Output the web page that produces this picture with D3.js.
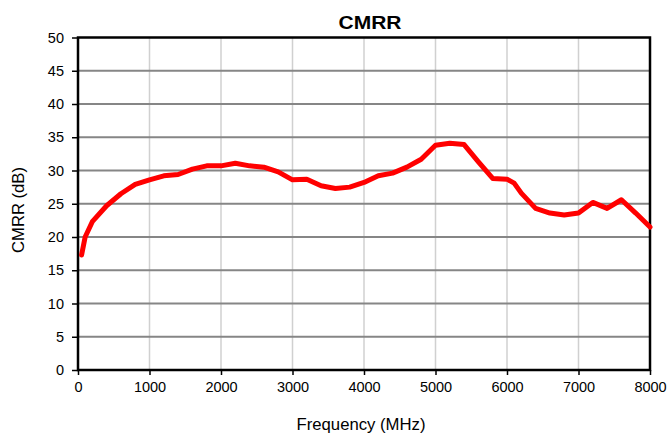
<!DOCTYPE html>
<html>
<head>
<meta charset="utf-8">
<script src="https://cdn.jsdelivr.net/npm/d3@7"></script>
<style>
  body { margin: 0; background: #fff; }
  text { font-family: Arial, "Liberation Sans", sans-serif; }
</style>
</head>
<body>
<div id="chart"></div>
<script>
// frequency (MHz) and CMRR (dB)
const freqs = [50, 100, 200, 400, 600, 800, 1000, 1200, 1400, 1600, 1800, 2000, 2200, 2400,
  2600, 2800, 3000, 3200, 3400, 3600, 3800, 4000, 4200, 4400, 4600, 4800, 5000, 5200, 5400,
  5600, 5800, 6000, 6100, 6200, 6400, 6600, 6800, 7000, 7200, 7400, 7600, 7800, 8000]
const cmrr = [17.3, 20.0, 22.3, 24.7, 26.5, 27.9, 28.6, 29.2, 29.4, 30.2, 30.7, 30.7, 31.1, 30.7,
  30.5, 29.8, 28.6, 28.7, 27.7, 27.3, 27.5, 28.2, 29.2, 29.6, 30.5, 31.7, 33.8, 34.1, 33.9,
  31.3, 28.8, 28.7, 28.1, 26.6, 24.3, 23.6, 23.3, 23.6, 25.2, 24.3, 25.6, 23.6, 21.5]
const xTicks = [0, 1000, 2000, 3000, 4000, 5000, 6000, 7000, 8000]
const yTicks = [0, 5, 10, 15, 20, 25, 30, 35, 40, 45, 50]

const width = 670, height = 434
const margin = { top: 37.5, right: 20, bottom: 64, left: 78 }
const plotW = 650 - margin.left, plotH = 370 - margin.top

const svg = d3.select('#chart').append('svg')
  .attr('width', width)
  .attr('height', height)

const g = svg.append('g')
  .attr('transform', `translate(${margin.left}, ${margin.top})`)

const x = d3.scaleLinear().domain([0, 8000]).range([0, plotW])
const y = d3.scaleLinear().domain([0, 50]).range([plotH, 0])

// vertical grid (light)
g.append('g')
  .selectAll('line')
  .data(xTicks.slice(1, -1))
  .join('line')
  .attr('x1', d => x(d)).attr('x2', d => x(d))
  .attr('y1', 0).attr('y2', plotH)
  .attr('stroke', '#d0d0d0')
  .attr('stroke-width', 1.5)

// horizontal grid (dark)
g.append('g')
  .selectAll('line')
  .data(yTicks.slice(1, -1))
  .join('line')
  .attr('x1', 0).attr('x2', plotW)
  .attr('y1', d => y(d)).attr('y2', d => y(d))
  .attr('stroke', '#868686')
  .attr('stroke-width', 2)

// axes
const xAxis = g.append('g')
  .attr('transform', `translate(0, ${plotH})`)
  .call(d3.axisBottom(x).tickValues(xTicks).tickSize(5).tickPadding(7).tickFormat(d3.format('d')))
const yAxis = g.append('g')
  .call(d3.axisLeft(y).tickValues(yTicks).tickSize(6).tickPadding(8))

for (const ax of [xAxis, yAxis]) {
  ax.select('.domain').remove()
  ax.selectAll('line').attr('stroke', '#000').attr('stroke-width', 1.5)
  ax.selectAll('text')
    .attr('fill', '#000')
    .attr('font-size', 14.5)
    .style('font-family', 'Arial, "Liberation Sans", sans-serif')
}

// frame
g.append('rect')
  .attr('width', plotW)
  .attr('height', plotH)
  .attr('fill', 'none')
  .attr('stroke', '#000')
  .attr('stroke-width', 2.5)

// data line
const line = d3.line()
  .x((d, i) => x(freqs[i]))
  .y(d => y(d))

g.append('path')
  .datum(cmrr)
  .attr('d', line)
  .attr('fill', 'none')
  .attr('stroke', '#ff0000')
  .attr('stroke-width', 5)
  .attr('stroke-linejoin', 'round')
  .attr('stroke-linecap', 'round')

// title & labels (the reference text runs a bit wide, so stretch to its length)
svg.append('text')
  .attr('x', 370)
  .attr('y', 29)
  .attr('text-anchor', 'middle')
  .attr('font-size', 18)
  .attr('font-weight', 'bold')
  .attr('textLength', 63)
  .attr('lengthAdjust', 'spacingAndGlyphs')
  .text('CMRR')

svg.append('text')
  .attr('x', 361)
  .attr('y', 430)
  .attr('text-anchor', 'middle')
  .attr('font-size', 16)
  .attr('textLength', 129)
  .attr('lengthAdjust', 'spacingAndGlyphs')
  .text('Frequency (MHz)')

svg.append('text')
  .attr('transform', `translate(24, 210) rotate(-90)`)
  .attr('text-anchor', 'middle')
  .attr('font-size', 16)
  .attr('textLength', 86)
  .attr('lengthAdjust', 'spacingAndGlyphs')
  .text('CMRR (dB)')
</script>
</body>
</html>
